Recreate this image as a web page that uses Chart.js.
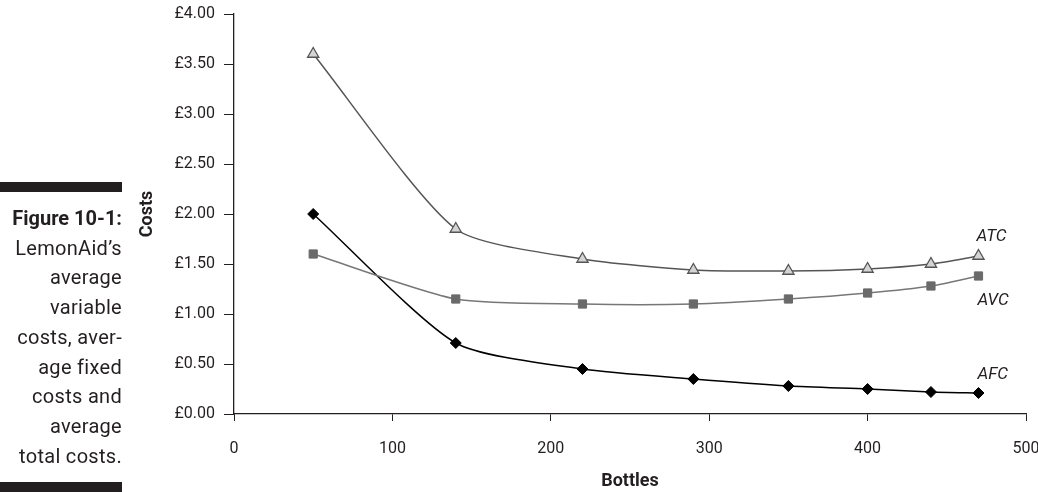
<!DOCTYPE html>
<html>
<head>
<meta charset="utf-8">
<script src="https://cdn.jsdelivr.net/npm/chart.js@4.4.1/dist/chart.umd.min.js"></script>
<style>
  html, body { margin: 0; padding: 0; background: #fff; }
  #wrap { position: relative; width: 1038px; height: 492px; overflow: hidden; }
  #grafico { position: absolute; left: 0; top: 0; }
  .barra { position: absolute; left: 0; width: 122px; height: 10px; background: #231f20; }
  #leyenda {
    position: absolute; left: 0; top: 204px; width: 122px;
    font-family: Roboto, sans-serif; font-size: 20px; line-height: 29.7px;
    text-align: right; color: #231f20; letter-spacing: 0.3px;
  }
  #leyenda b { font-weight: 700; letter-spacing: 0; }
</style>
</head>
<body>
<div id="wrap">
  <canvas id="grafico" width="1038" height="492"></canvas>
  <div class="barra" style="top:182px"></div>
  <div id="leyenda"><b>Figure 10-1:</b><br>LemonAid’s<br>average<br>variable<br>costs, aver-<br>age fixed<br>costs and<br>average<br>total costs.</div>
  <div class="barra" style="top:482px"></div>
</div>
<script>
// DATOS
const bottles = [50, 140, 220, 290, 350, 400, 440, 470];
const atc = [3.60, 1.85, 1.55, 1.44, 1.43, 1.45, 1.50, 1.58];
const avc = [1.60, 1.15, 1.10, 1.10, 1.15, 1.21, 1.28, 1.38];
const afc = [2.00, 0.71, 0.45, 0.35, 0.28, 0.25, 0.22, 0.21];
const seriesNames = ['ATC', 'AVC', 'AFC'];

function puntos(valores){
    return bottles.map((b, i) => ({x: b, y: valores[i]}));
}

Chart.defaults.font.family = 'Roboto, sans-serif';
Chart.defaults.color = '#231f20';

// etiquetas al final de cada curva
const etiquetasFinales = {
    id: 'etiquetasFinales',
    afterDatasetsDraw(chart, args, opts){
        const ctx = chart.ctx;
        ctx.save();
        ctx.font = 'italic 17px Roboto, sans-serif';
        ctx.fillStyle = '#231f20';
        ctx.textAlign = 'left';
        ctx.textBaseline = 'middle';
        chart.data.datasets.forEach((ds, i) => {
            const meta = chart.getDatasetMeta(i);
            const ultimo = meta.data[meta.data.length - 1];
            const off = opts.offsets[i];
            ctx.fillText(ds.label, ultimo.x + off[0], ultimo.y + off[1]);
        });
        ctx.restore();
    }
};

new Chart(document.getElementById('grafico'), {
    type: 'line',
    data: {
        datasets: [
            {
                label: seriesNames[0],
                data: puntos(atc),
                borderColor: '#555',
                borderWidth: 1.5,
                pointStyle: 'triangle',
                pointRadius: 6.5,
                pointBackgroundColor: '#d4d4d4',
                pointBorderColor: '#555',
                pointBorderWidth: 1.3,
                tension: 0.22
            },
            {
                label: seriesNames[1],
                data: puntos(avc),
                borderColor: '#777',
                borderWidth: 1.5,
                pointStyle: 'rect',
                pointRadius: 5.8,
                pointBackgroundColor: '#6a6a6a',
                pointBorderColor: '#6a6a6a',
                pointBorderWidth: 1,
                tension: 0.22
            },
            {
                label: seriesNames[2],
                data: puntos(afc),
                borderColor: '#000',
                borderWidth: 1.5,
                pointStyle: 'rectRot',
                pointRadius: 5.5,
                pointBackgroundColor: '#000',
                pointBorderColor: '#000',
                pointBorderWidth: 1,
                tension: 0.22
            }
        ]
    },
    options: {
        responsive: false,
        animation: false,
        layout: { padding: { left: 130, right: 12, top: 14, bottom: 0 } },
        plugins: {
            legend: { display: false },
            tooltip: { enabled: false },
            etiquetasFinales: { offsets: [[-2, -19], [-1, 25], [-1, -18]] }
        },
        scales: {
            x: {
                type: 'linear',
                min: 0,
                max: 500,
                ticks: { stepSize: 100, padding: 18, font: { size: 16 }, color: '#231f20' },
                grid: { drawOnChartArea: false, drawTicks: true, tickLength: 7, color: '#231f20' },
                border: { display: true, color: '#231f20', width: 1.3 },
                title: { display: true, text: 'Bottles', font: { size: 18, weight: 'bold' }, color: '#231f20', padding: { top: 4, bottom: 0 } },
                afterFit(scale){
                    scale.height = 78;
                    scale.paddingRight = 0;
                }
            },
            y: {
                min: 0,
                max: 4,
                ticks: {
                    stepSize: 0.5,
                    padding: 9,
                    font: { size: 16 },
                    color: '#231f20',
                    callback: v => '£' + Number(v).toFixed(2)
                },
                grid: { drawOnChartArea: false, drawTicks: true, tickLength: 10, color: '#231f20' },
                border: { display: true, color: '#231f20', width: 1.3 },
                title: { display: true, text: 'Costs', font: { size: 18, weight: 'bold' }, color: '#231f20', padding: { top: 7, bottom: 4 } },
                afterFit(scale){
                    scale.width = 104;
                    scale.paddingTop = 0;
                }
            }
        }
    },
    plugins: [etiquetasFinales]
});
</script>
</body>
</html>
